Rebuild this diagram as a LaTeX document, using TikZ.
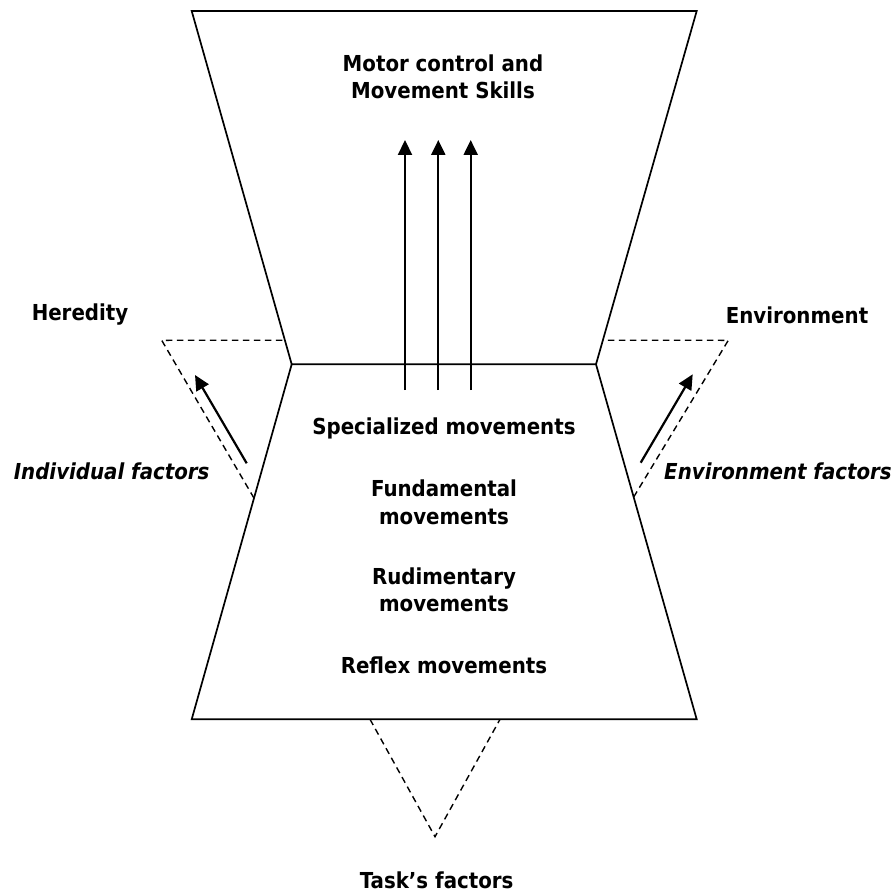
\documentclass[tikz,border=0pt]{standalone}
\usepackage{fontspec}
\setmainfont{DejaVu Sans Condensed}
\usetikzlibrary{positioning, calc, arrows.meta}

\begin{document}
\begin{tikzpicture}[x=1pt,y=-1pt,
    lbl/.style={font=\bfseries\fontsize{22}{27.5}\selectfont, align=center, inner sep=0pt},
    ilbl/.style={lbl, font=\bfseries\itshape\fontsize{22}{27.5}\selectfont},
    outline/.style={line width=1.7pt, line join=miter},
    guide/.style={line width=1.4pt, dash pattern=on 6.5pt off 4.5pt},
    up/.style={line width=2.2pt, -{Triangle[length=15pt,width=14pt]}}]
    \useasboundingbox (0,0) rectangle (896,893);
    % corners of the hourglass
    \coordinate (tl) at (191.7,11);
    \coordinate (tr) at (696.7,11);
    \coordinate (wl) at (291.7,364.3);
    \coordinate (wr) at (596,364.3);
    \coordinate (bl) at (191.7,719.3);
    \coordinate (br) at (696.7,719.3);
    \draw[outline] (wl) -- (tl) -- (tr) -- (wr) -- cycle;
    \draw[outline] (wl) -- (bl) -- (br) -- (wr);
    % dashed factor triangles
    \coordinate (hl) at (161.7,340.3);
    \coordinate (hu) at ($(tl)!0.932!(wl)$);
    \coordinate (hd) at ($(wl)!0.377!(bl)$);
    \coordinate (er) at (728.3,340.3);
    \coordinate (eu) at ($(tr)!0.932!(wr)$);
    \coordinate (ed) at ($(wr)!0.374!(br)$);
    \coordinate (ta) at (370,719.3);
    \coordinate (tb) at (500,719.3);
    \coordinate (tc) at (435,836.7);
    \draw[guide] (hd) -- (hl) -- (hu);
    \draw[guide] (ed) -- (er) -- (eu);
    \draw[guide] (ta) -- (tc) -- (tb);
    % labels
    \node[lbl] (motor) at (443,76.7) {Motor control and\\Movement Skills};
    \node[lbl] (heredity) at (80,315) {Heredity};
    \node[lbl] (environment) at (797,315) {Environment};
    \node[ilbl] (indiv) at (111.7,471.7) {Individual factors};
    \node[ilbl] (envfac) at (778,471.7) {Environment factors};
    \node[lbl] (spec) at (444,428.3) {Specialized movements};
    \node[lbl] (fund) at (444,502.5) {Fundamental\\movements};
    \node[lbl] (rud) at (444,590) {Rudimentary\\movements};
    \node[lbl] (reflex) at (444,665) {Reflex movements};
    \node[lbl] (task) at (436.7,880) {Task’s factors};
    % arrows
    \coordinate (a1) at (405,390);   \coordinate (b1) at (405,140);
    \coordinate (a2) at (438.3,390); \coordinate (b2) at (438.3,140);
    \coordinate (a3) at (470.7,390); \coordinate (b3) at (470.7,140);
    \draw[up] (a1) -- (b1);
    \draw[up] (a2) -- (b2);
    \draw[up] (a3) -- (b3);
    \coordinate (ia) at (246.7,463.3); \coordinate (ib) at (195,375);
    \coordinate (ea) at (640.7,462.7); \coordinate (eb) at (692.7,374.3);
    \draw[up] (ia) -- (ib);
    \draw[up] (ea) -- (eb);
\end{tikzpicture}
\end{document}
